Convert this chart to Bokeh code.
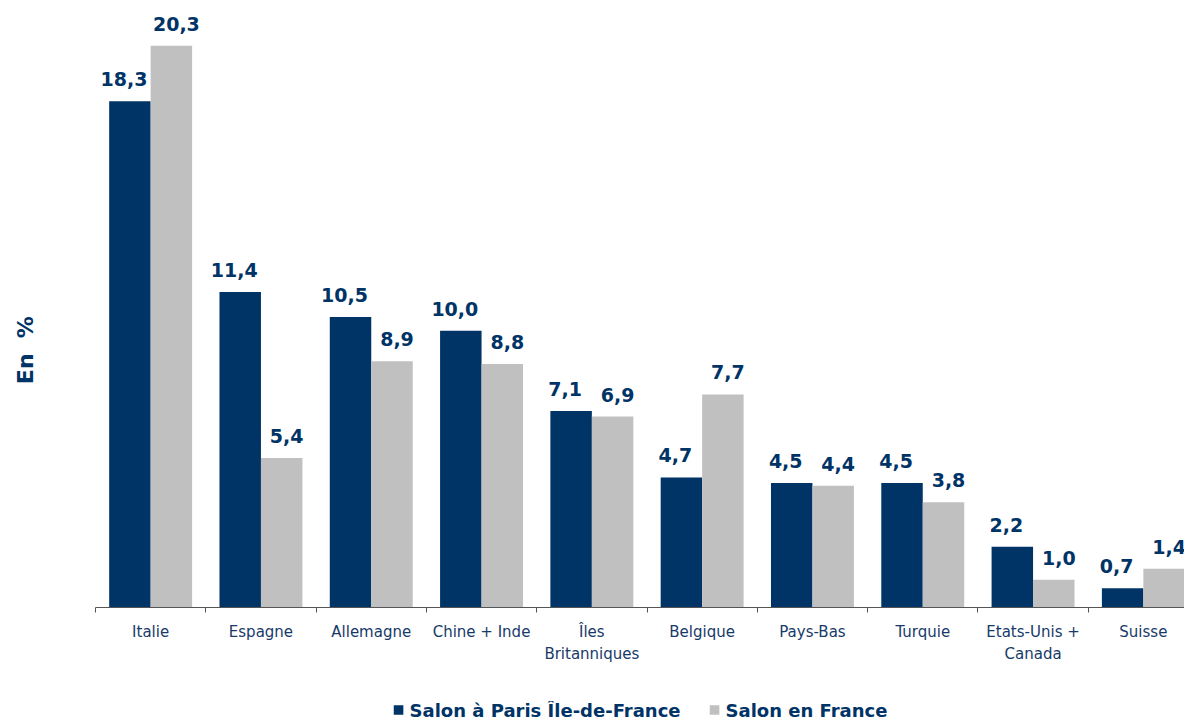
from bokeh.plotting import figure
from bokeh.layouts import column
from bokeh.models import (ColumnDataSource, Range1d, FixedTicker, Legend, LegendItem)
from bokeh.embed import file_html
from bokeh.resources import INLINE

categories = ["Italie", "Espagne", "Allemagne", "Chine + Inde", "Îles\nBritanniques",
              "Belgique", "Pays-Bas", "Turquie", "Etats-Unis +\nCanada", "Suisse"]
series_names = ["Salon à Paris Île-de-France", "Salon en France"]
paris_values = [18.3, 11.4, 10.5, 10.0, 7.1, 4.7, 4.5, 4.5, 2.2, 0.7]
france_values = [20.3, 5.4, 8.9, 8.8, 6.9, 7.7, 4.4, 3.8, 1.0, 1.4]
y_title = "En\u00a0\u00a0%"

DARK = "#003366"
GREY = "#C0C0C0"
TEXT_DARK = "#003366"
CAT_TEXT = "#173a69"

n = len(categories)
centers = [i + 0.5 for i in range(n)]
bw = 0.376

def fmt(v):
    return f"{v:.1f}".replace(".", ",")

src_p = ColumnDataSource(dict(x=[c - bw / 2 for c in centers], top=paris_values,
                              lab=[fmt(v) for v in paris_values]))
src_f = ColumnDataSource(dict(x=[c + bw / 2 for c in centers], top=france_values,
                              lab=[fmt(v) for v in france_values]))

W = 1184
H1 = 683
p = figure(width=W, height=H1, output_backend="svg", toolbar_location=None,
           x_range=Range1d(0, 9.873), y_range=Range1d(0, 21.65))
p.min_border_left = 95
p.min_border_right = 0
p.min_border_top = 8
p.min_border_bottom = H1 - 607
p.outline_line_color = None
p.grid.visible = False
p.background_fill_color = "white"
p.border_fill_color = "white"

r1 = p.vbar(x="x", top="top", width=bw, source=src_p, fill_color=DARK, line_color=None)
r2 = p.vbar(x="x", top="top", width=bw, source=src_f, fill_color=GREY, line_color=None)

for src, xo in ((src_p, -6), (src_f, 5)):
    p.text(x="x", y="top", text="lab", source=src, text_align="center",
           text_baseline="alphabetic", y_offset=-22, x_offset=xo,
           text_font_size="19px", text_font_style="bold", text_color=TEXT_DARK,
           text_font={"value": "DejaVu Sans"})

ya = p.yaxis[0]
ya.ticker = FixedTicker(ticks=[])
ya.axis_line_color = None
ya.major_tick_line_color = None
ya.minor_tick_line_color = None
ya.major_tick_out = 0
ya.minor_tick_out = 0
ya.major_label_standoff = 0
# trailing no-break spaces shift the centred title down, as in the reference
ya.axis_label = y_title + "\u00a0" * 11
ya.axis_label_text_font = "DejaVu Sans"
ya.axis_label_text_font_size = "22px"
ya.axis_label_text_font_style = "bold"
ya.axis_label_text_color = TEXT_DARK
ya.axis_label_standoff = 58

xa = p.xaxis[0]
xa.ticker = FixedTicker(ticks=centers, minor_ticks=list(range(n + 1)))
xa.major_label_overrides = {c: lab for c, lab in zip(centers, categories)}
xa.major_tick_line_color = None
xa.major_tick_out = 0
xa.major_tick_in = 0
xa.minor_tick_out = 5
xa.minor_tick_in = 0
xa.minor_tick_line_color = "#555555"
xa.axis_line_color = "#555555"
xa.major_label_standoff = 10
xa.major_label_text_font = "DejaVu Sans"
xa.major_label_text_font_size = "15px"
xa.major_label_text_color = CAT_TEXT
xa.major_label_text_line_height = 1.25

# legend strip
H2 = 35
q = figure(width=W, height=H2, output_backend="svg", toolbar_location=None,
           x_range=Range1d(0, 9.873), y_range=Range1d(0, 1))
q.min_border_left = 95
q.min_border_right = 0
q.min_border_top = 18
q.min_border_bottom = 0
q.outline_line_color = None
q.grid.visible = False
q.axis.visible = False
q.border_fill_color = "white"
lr1 = q.vbar(x=[0.5], top=[0], width=bw, fill_color=DARK, line_color=None)
lr2 = q.vbar(x=[0.5], top=[0], width=bw, fill_color=GREY, line_color=None)

legend = Legend(items=[LegendItem(label=series_names[0], renderers=[lr1]),
                       LegendItem(label=series_names[1], renderers=[lr2])],
                orientation="horizontal", location="center",
                glyph_width=12, glyph_height=12, label_standoff=6, spacing=27,
                padding=0, margin=0, border_line_color=None, background_fill_alpha=0,
                label_text_font="DejaVu Sans", label_text_font_size="18px",
                label_text_font_style="bold", label_text_color=TEXT_DARK)
q.add_layout(legend, "center")

layout = column(p, q, spacing=0)
open("out.html", "w").write(file_html(layout, INLINE))
